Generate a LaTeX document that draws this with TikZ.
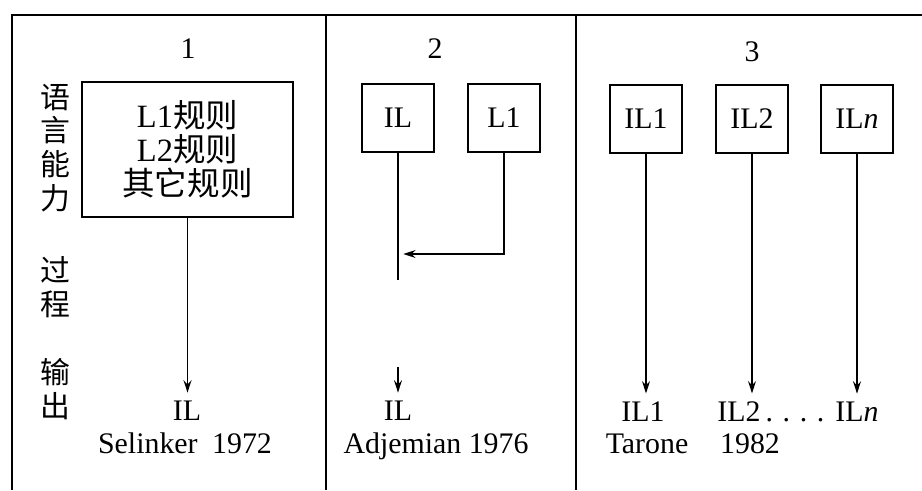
\documentclass[tikz,border=0pt]{standalone}
\usepackage{fontspec}
\setmainfont{Liberation Serif}
\newfontfamily\cjk{Noto Sans CJK SC}
\usetikzlibrary{positioning, arrows.meta}

\begin{document}
\begin{tikzpicture}[x=0.02cm, y=-0.02cm, line width=0.9pt,
  font=\fontsize{17}{19.3}\selectfont,
  frame/.style={line width=1pt},
  rulebox/.style={draw, minimum width=1.44cm, minimum height=1.36cm, inner sep=2pt},
  outtext/.style={anchor=base, inner sep=4pt},
  rowlabel/.style={align=center, inner sep=0pt, font=\fontsize{17}{19.3}\selectfont\cjk},
  flow/.style={-{Stealth[length=7pt, width=4.5pt]}}]
  \useasboundingbox (0,0) rectangle (922,490);
  \draw[frame] (12,490) -- (12,15) -- (922,15);
  \draw[frame] (326,15) -- (326,490);
  \draw[frame] (576,15) -- (576,490);

  \node[rowlabel] (competence) at (55,148) {语\\言\\能\\力};
  \node[rowlabel] (process) at (55,287) {过\\程};
  \node[rowlabel] (output) at (55,389) {输\\出};

  \node (num1) at (188,49) {1};
  \node (num2) at (435,49) {2};
  \node (num3) at (752,52) {3};

  \node[draw, minimum width=4.22cm, minimum height=2.7cm, align=center,
        font=\fontsize{18.5}{19.3}\selectfont] (rules) at (187.5,149.5)
    {L1{\cjk 规则}\\L2{\cjk 规则}\\{\cjk 其它规则}};
  \node[rulebox] (il) at (398,118) {IL};
  \node[rulebox] (l1) at (504,118) {L1};
  \node[rulebox] (ila) at (646,119) {IL1};
  \node[rulebox] (ilb) at (752,119) {IL2};
  \node[rulebox] (iln) at (857,119) {IL\textit{n}};

  \node[outtext] (out1) at (187,420) {IL};
  \node[outtext] (cite1) at (185,453) {Selinker\hspace{4pt} 1972};
  \node[outtext] (out2) at (398,420) {IL};
  \node[outtext] (cite2) at (436,453) {Adjemian 1976};
  \node[outtext] (out3a) at (643,421) {IL1};
  \node[outtext] (out3b) at (739,421) {IL2};
  \node[outtext] (dots) at (795,421) {.\hspace{5.5pt}.\hspace{5.5pt}.\hspace{5.5pt}.};
  \node[outtext] (out3n) at (857,421) {IL\textit{n}};
  \node[outtext] (cite3a) at (647,453) {Tarone};
  \node[outtext] (cite3b) at (750,453) {1982};

  \coordinate (ilstop) at (398,280);
  \coordinate (ilgo) at (398,367);
  \coordinate (merge) at (398,254);

  \draw[flow] (rules.south) -- (rules.south |- out1.north);
  \draw (il) -- (ilstop);
  \draw[flow] (ilgo) -- (out2);
  \draw[flow, shorten >=3pt] (l1) |- (merge);
  \draw[flow] (ila.south) -- (ila.south |- out3a.north);
  \draw[flow] (ilb.south) -- (ilb.south |- out3b.north);
  \draw[flow] (iln.south) -- (iln.south |- out3n.north);
\end{tikzpicture}
\end{document}
